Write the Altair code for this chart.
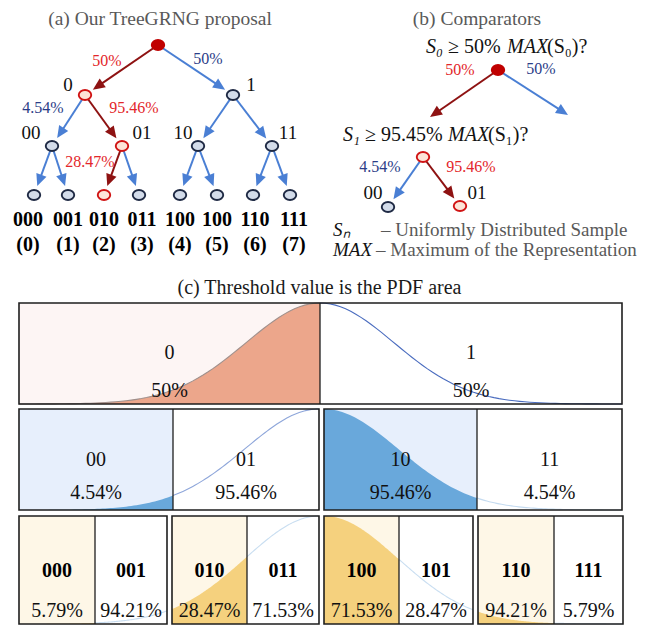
import numpy as np
import pandas as pd
import altair as alt

FONT = "Liberation Serif"

# ---------------- data: (a) tree ----------------
tree_node_id = ["r", "0", "1", "00", "01", "10", "11",
                "000", "001", "010", "011", "100", "101", "110", "111"]
tree_node_x = [158, 85, 233, 52, 122, 198, 272, 34, 68, 104, 139, 180, 217, 253, 290]
tree_node_y = [45, 95, 95, 146, 146, 146, 146, 195, 195, 195, 195, 195, 195, 195, 195]
tree_node_kind = ["root", "path", "plain", "plain", "path", "plain", "plain",
                  "plain", "plain", "path", "plain", "plain", "plain", "plain", "plain"]
tree_edge_from = ["r", "r", "0", "0", "1", "1", "00", "00", "01", "01", "10", "10", "11", "11"]
tree_edge_to = ["0", "1", "00", "01", "10", "11", "000", "001", "010", "011", "100", "101", "110", "111"]
tree_edge_kind = ["red", "blue", "blue", "red", "blue", "blue", "blue", "blue",
                  "red", "blue", "blue", "blue", "blue", "blue"]

tree_name_text = ["0", "1", "00", "01", "10", "11"]
tree_name_x = [68, 251, 31, 142, 183, 288]
tree_name_y = [85, 85, 133, 133, 133, 133]

tree_pct_text = ["50%", "50%", "4.54%", "95.46%", "28.47%"]
tree_pct_x = [107, 208, 43, 134, 90]
tree_pct_y = [61, 59, 108, 108, 162]
tree_pct_kind = ["red", "blue", "blue", "red", "red"]

leaf_code = ["000", "001", "010", "011", "100", "100", "110", "111"]
leaf_index = ["(0)", "(1)", "(2)", "(3)", "(4)", "(5)", "(6)", "(7)"]
leaf_label_x = [28, 68, 104, 142, 180, 217, 255, 294]

# ---------------- data: (b) comparators ----------------
comp_node_id = ["cr", "cn", "c00", "c01"]
comp_node_x = [498, 423, 388, 460]
comp_node_y = [70, 157, 207, 206]
comp_node_kind = ["root", "path", "plain", "path"]
comp_end_id = ["e0", "e1"]
comp_end_x = [430, 568]
comp_end_y = [117, 115]
comp_edge_from = ["cr", "cr", "cn", "cn"]
comp_edge_to = ["e0", "e1", "c00", "c01"]
comp_edge_kind = ["red", "blue", "blue", "red"]

comp_pct_text = ["50%", "50%", "4.54%", "95.46%"]
comp_pct_x = [460, 541, 380, 471]
comp_pct_y = [70, 69, 167, 167]
comp_pct_kind = ["red", "blue", "blue", "red"]
comp_name_text = ["00", "01"]
comp_name_x = [373, 477]
comp_name_y = [193, 193]

# ---------------- data: (c) PDF area boxes ----------------
c_box_row = [1, 2, 2, 3, 3, 3, 3]
c_box_left = [19, 19, 324, 19, 172, 324, 478]
c_box_div = [320, 173, 477, 95, 247, 399, 554]
c_box_right = [622, 319, 622, 167, 319, 473, 623]
c_box_top = [303, 409, 409, 516, 516, 516, 516]
c_box_bottom = [404, 510, 510, 624, 624, 624, 624]
c_peak_x = [320, 319, 324, 319, 319, 324, 324]
c_name_left = ["0", "00", "10", "000", "010", "100", "110"]
c_name_right = ["1", "01", "11", "001", "011", "101", "111"]
c_pct_left = ["50%", "4.54%", "95.46%", "5.79%", "28.47%", "71.53%", "94.21%"]
c_pct_right = ["50%", "95.46%", "4.54%", "94.21%", "71.53%", "28.47%", "5.79%"]
c_name_dy = {1: 50, 2: 51, 3: 55}
c_pct_dy = {1: 88, 2: 84, 3: 95}
SIGMA = 74

# ---------------- styles ----------------
RED_ARROW = "#8e1212"
BLUE_ARROW = "#4a7fd4"
RED_TEXT = "#e3262a"
BLUE_TEXT = "#2b3d88"
NODE_FILL = {"root": "#c00000", "path": "#fde4d8", "plain": "#d3dcea"}
NODE_STROKE = {"root": "#c00000", "path": "#d01414", "plain": "#1f2a44"}
BG_LEFT = {1: "#fdf5f4", 2: "#e7effc", 3: "#fef7e7"}
FILL = {1: "#eca68b", 2: "#69a8db", 3: "#f5d17e"}
LINE_RIGHT = ["#4a6cbf", "#8ea6da", "#c5dbf0", "#c9def1", "#c9def1", "#c9def1", "#c9def1"]
HEAD = 12
GAP = 9.5

X = alt.Scale(domain=[8, 638], nice=False, zero=False)
Y = alt.Scale(domain=[8, 625], nice=False, zero=False, reverse=True)


def ex(f="x"):
    return alt.X(f"{f}:Q", scale=X, axis=None)


def ey(f="y"):
    return alt.Y(f"{f}:Q", scale=Y, axis=None)


# ---------------- build tables ----------------
pos = {}
for i, n in enumerate(tree_node_id):
    pos[n] = (tree_node_x[i], tree_node_y[i], True)
for i, n in enumerate(comp_node_id):
    pos[n] = (comp_node_x[i], comp_node_y[i], True)
for i, n in enumerate(comp_end_id):
    pos[n] = (comp_end_x[i], comp_end_y[i], False)

edge_rows = []
for fr, to, k in list(zip(tree_edge_from, tree_edge_to, tree_edge_kind)) + \
        list(zip(comp_edge_from, comp_edge_to, comp_edge_kind)):
    x1, y1, _ = pos[fr]
    x2, y2, isnode = pos[to]
    dx, dy = x2 - x1, y2 - y1
    d = float(np.hypot(dx, dy))
    ux, uy = dx / d, dy / d
    g = GAP if isnode else 0.0
    tx, ty = x2 - g * ux, y2 - g * uy
    ex_, ey_ = tx - 0.7 * HEAD * ux, ty - 0.7 * HEAD * uy
    ang = (np.degrees(np.arctan2(ux, -uy)) + 360.0) % 360.0
    edge_rows.append(dict(x=x1, y=y1, x2=ex_, y2=ey_, tx=tx, ty=ty, ang=ang,
                          c=RED_ARROW if k == "red" else BLUE_ARROW))
edges = pd.DataFrame(edge_rows)

node_rows = []
for i, n in enumerate(tree_node_id):
    k = tree_node_kind[i]
    node_rows.append(dict(x=tree_node_x[i], y=tree_node_y[i], f=NODE_FILL[k], s=NODE_STROKE[k]))
for i, n in enumerate(comp_node_id):
    k = comp_node_kind[i]
    node_rows.append(dict(x=comp_node_x[i], y=comp_node_y[i], f=NODE_FILL[k], s=NODE_STROKE[k]))
nodes = pd.DataFrame(node_rows)

# boxes
boxes = pd.DataFrame(dict(box=list(range(len(c_box_row))), row=c_box_row, left=c_box_left,
                          div=c_box_div, right=c_box_right, top=c_box_top, bottom=c_box_bottom))
boxes["bg"] = boxes["row"].map(BG_LEFT)

fill_rows, line_rows = [], []
for i in range(len(c_box_row)):
    L, D, R = c_box_left[i], c_box_div[i], c_box_right[i]
    T, B = c_box_top[i], c_box_bottom[i]
    pk = c_peak_x[i]
    r = c_box_row[i]

    def cy(xx):
        return B - (B - T) * np.exp(-((xx - pk) ** 2) / (2 * SIGMA ** 2))
    for xx in np.linspace(L, D, 60):
        fill_rows.append(dict(box=i, x=xx, y=cy(xx), y2=B, c=FILL[r]))
        if r == 1:
            line_rows.append(dict(seg=f"l{i}", x=xx, y=cy(xx), c="#a0908c"))
    for xx in np.linspace(D, R, 60):
        line_rows.append(dict(seg=f"r{i}", x=xx, y=cy(xx), c=LINE_RIGHT[i]))
fills = pd.DataFrame(fill_rows)
lines = pd.DataFrame(line_rows)

# ---------------- layers ----------------
layers = []

# (c) backgrounds
layers.append(alt.Chart(boxes).mark_rect(strokeWidth=0).encode(
    x=ex("left"), x2="div:Q", y=ey("top"), y2="bottom:Q",
    color=alt.Color("bg:N", scale=None)))
layers.append(alt.Chart(fills).mark_area(opacity=1).encode(
    x=ex("x"), y=ey("y"), y2="y2:Q", detail="box:N",
    color=alt.Color("c:N", scale=None)))
layers.append(alt.Chart(lines).mark_line(strokeWidth=1.1).encode(
    x=ex("x"), y=ey("y"), detail="seg:N",
    color=alt.Color("c:N", scale=None)))
layers.append(alt.Chart(boxes).mark_rect(fillOpacity=0, stroke="#1e1e1e", strokeWidth=1.6).encode(
    x=ex("left"), x2="right:Q", y=ey("top"), y2="bottom:Q"))
layers.append(alt.Chart(boxes).mark_rule(color="#1e1e1e", strokeWidth=1.3).encode(
    x=ex("div"), y=ey("top"), y2="bottom:Q"))

# (a),(b) arrows and nodes
layers.append(alt.Chart(edges).mark_rule(strokeWidth=2).encode(
    x=ex("x"), y=ey("y"), x2="x2:Q", y2="y2:Q",
    color=alt.Color("c:N", scale=None)))
layers.append(alt.Chart(edges).mark_point(
    shape="M0,0L0.45,1L-0.45,1Z", filled=True, opacity=1, size=(2 * HEAD) ** 2, strokeWidth=0).encode(
    x=ex("tx"), y=ey("ty"), angle=alt.Angle("ang:Q", scale=None),
    color=alt.Color("c:N", scale=None)))
layers.append(alt.Chart(nodes).mark_point(
    shape="M-1,0A1,0.8,0,1,1,1,0A1,0.8,0,1,1,-1,0Z", filled=True, opacity=1,
    size=156, strokeWidth=1.9).encode(
    x=ex("x"), y=ey("y"),
    fill=alt.Fill("f:N", scale=None), stroke=alt.Stroke("s:N", scale=None)))


# ---------------- text ----------------
def text_layer(rows, weight="normal", style="normal", align="center"):
    df = pd.DataFrame(rows, columns=["x", "y", "t", "c", "s"])
    return alt.Chart(df).mark_text(font=FONT, fontWeight=weight, fontStyle=style,
                                   align=align, baseline="middle").encode(
        x=ex("x"), y=ey("y"), text="t:N",
        color=alt.Color("c:N", scale=None), size=alt.Size("s:Q", scale=None))


plain_rows = []
plain_rows.append((160, 19, "(a) Our TreeGRNG proposal", "#595959", 19.5))
plain_rows.append((477, 19, "(b) Comparators", "#595959", 19.5))
plain_rows.append((319.5, 288, "(c) Threshold value is the PDF area", "#1a1a1a", 20))
for t, x, y in zip(tree_name_text, tree_name_x, tree_name_y):
    plain_rows.append((x, y, t, "#111111", 19))
for t, x, y, k in zip(tree_pct_text, tree_pct_x, tree_pct_y, tree_pct_kind):
    plain_rows.append((x, y, t, RED_TEXT if k == "red" else BLUE_TEXT, 16))
for t, x, y in zip(comp_name_text, comp_name_x, comp_name_y):
    plain_rows.append((x, y, t, "#111111", 19))
for t, x, y, k in zip(comp_pct_text, comp_pct_x, comp_pct_y, comp_pct_kind):
    plain_rows.append((x, y, t, RED_TEXT if k == "red" else BLUE_TEXT, 16))
for i in range(len(c_box_row)):
    r = c_box_row[i]
    lx = (c_box_left[i] + c_box_div[i]) / 2
    rx = (c_box_div[i] + c_box_right[i]) / 2
    ny = c_box_top[i] + c_name_dy[r]
    py = c_box_top[i] + c_pct_dy[r]
    if r != 3:
        plain_rows.append((lx, ny, c_name_left[i], "#111111", 20))
        plain_rows.append((rx, ny, c_name_right[i], "#111111", 20))
    plain_rows.append((lx, py, c_pct_left[i], "#111111", 20))
    plain_rows.append((rx, py, c_pct_right[i], "#111111", 20))
layers.append(text_layer(plain_rows))

bold_rows = []
for t, i, x in zip(leaf_code, leaf_index, leaf_label_x):
    bold_rows.append((x, 220, t, "#000000", 20))
    bold_rows.append((x, 245, i, "#000000", 20))
for i in range(len(c_box_row)):
    if c_box_row[i] == 3:
        lx = (c_box_left[i] + c_box_div[i]) / 2
        rx = (c_box_div[i] + c_box_right[i]) / 2
        ny = c_box_top[i] + c_name_dy[3]
        bold_rows.append((lx, ny, c_name_left[i], "#000000", 20))
        bold_rows.append((rx, ny, c_name_right[i], "#000000", 20))
layers.append(text_layer(bold_rows, weight="bold"))

# comparator formulas (left aligned pieces)
ital_rows = [
    (426, 47, "S₀", "#111111", 20),
    (507, 47, "MAX", "#111111", 20),
    (343, 135, "S₁", "#111111", 20),
    (448, 135, "MAX", "#111111", 20),
    (333, 230, "Sₙ", "#111111", 19),
    (333, 250, "MAX", "#111111", 19),
]
layers.append(text_layer(ital_rows, style="italic", align="left"))
up_rows = [
    (448, 47, "≥ 50%", "#111111", 20),
    (547, 47, "(S₀)?", "#111111", 20),
    (365, 135, "≥ 95.45%", "#111111", 20),
    (488, 135, "(S₁)?", "#111111", 20),
    (381, 230, "– Uniformly Distributed Sample", "#595959", 19),
    (376, 250, "– Maximum of the Representation", "#595959", 19),
]
layers.append(text_layer(up_rows, align="left"))

chart = alt.layer(*layers).properties(
    width=630, height=617, padding=0, autosize="none", background="white"
).configure_view(stroke=None)

chart.save("out.html", embed_options={"renderer": "svg", "actions": False})
